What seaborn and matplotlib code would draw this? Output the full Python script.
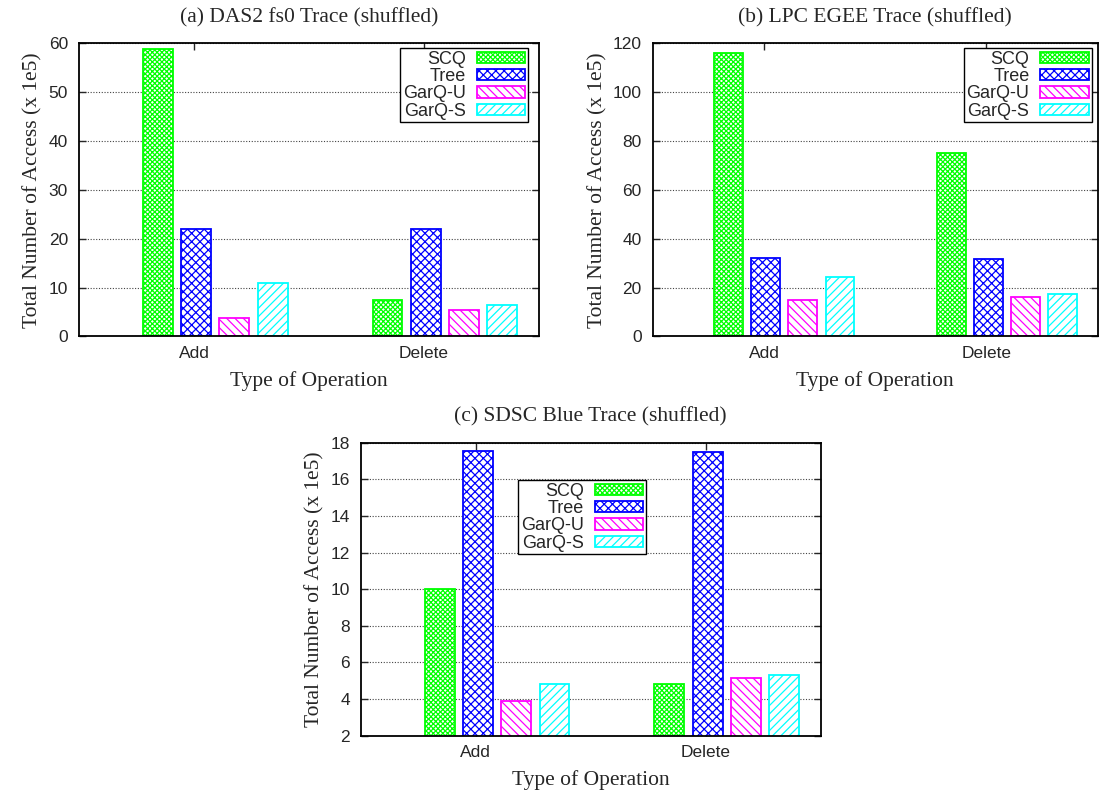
import numpy as np
import pandas as pd
import seaborn as sns
import matplotlib.pyplot as plt

# data (values in units of 1e5)
operations = ['Add', 'Delete']
series = ['SCQ', 'Tree', 'GarQ-U', 'GarQ-S']
colors = ['#00ff00', '#0000ff', '#ff00ff', '#00ffff']
hatches = ['xxxxxxx', 'xxxx', '\\\\\\\\', '////']

das2_add = [58.8, 21.9, 3.7, 11.0]
das2_delete = [7.5, 21.9, 5.5, 6.5]
lpc_add = [116.2, 32.0, 14.8, 24.2]
lpc_delete = [75.2, 31.9, 16.1, 17.4]
sdsc_add = [10.0, 17.56, 3.89, 4.82]
sdsc_delete = [4.84, 17.51, 5.16, 5.31]

titles = ['(a) DAS2 fs0 Trace (shuffled)',
          '(b) LPC EGEE Trace (shuffled)',
          '(c) SDSC Blue Trace (shuffled)']
ylims = [(0, 60), (0, 120), (2, 18)]
ysteps = [10, 20, 2]

sns.set_style('ticks')
plt.rcParams['font.family'] = ['Liberation Sans', 'DejaVu Sans']
plt.rcParams['hatch.linewidth'] = 0.9

serif = ['Liberation Serif', 'DejaVu Serif']


def make_df(add, delete):
    rows = []
    for op, vals in zip(operations, [add, delete]):
        for s, v in zip(series, vals):
            rows.append({'op': op, 'series': s, 'value': v})
    return pd.DataFrame(rows)


fig = plt.figure(figsize=(10.99, 7.94), dpi=100)
rects = [[0.0719, 0.5762, 0.4183, 0.3693],
         [0.5939, 0.5762, 0.4048, 0.3693],
         [0.3285, 0.0734, 0.4181, 0.3690]]
legend_pos = [('upper right', (0.977, 0.984)),
              ('upper right', (0.987, 0.984)),
              ('upper left', (0.342, 0.873))]
data = [(das2_add, das2_delete), (lpc_add, lpc_delete), (sdsc_add, sdsc_delete)]

for i in range(3):
    ax = fig.add_axes(rects[i])
    df = make_df(*data[i])
    sns.barplot(data=df, x='op', y='value', hue='series', order=operations,
                hue_order=series, palette=colors, width=0.667, gap=0.22,
                errorbar=None, legend=False, ax=ax)
    for cont, c, h in zip(ax.containers, colors, hatches):
        for bar in cont:
            bar.set_facecolor('white')
            bar.set_edgecolor(c)
            bar.set_hatch(h)
            bar.set_linewidth(1.3)

    # gnuplot puts the tick a bit left of the cluster centre
    ax.set_xlim(-0.592, 1.408)
    ax.set_xticks([-0.092, 0.908], operations)
    lo, hi = ylims[i]
    ax.set_ylim(lo, hi)
    ax.set_yticks(np.arange(lo, hi + 0.1, ysteps[i]))
    ax.yaxis.grid(True, linestyle=(0, (1, 1.5)), color='#444444', linewidth=0.8)
    ax.set_axisbelow(True)
    ax.tick_params(direction='in', top=True, right=True, length=5, width=1,
                   labelsize=12.5)
    ax.tick_params(axis='x', pad=7)
    ax.tick_params(axis='y', pad=8)
    for sp in ax.spines.values():
        sp.set_linewidth(1.3)
        sp.set_color('black')

    ax.set_title(titles[i], family=serif, fontsize=15.5, pad=15)
    ax.set_xlabel('Type of Operation', family=serif, fontsize=15.5, labelpad=7)
    ax.set_ylabel('Total Number of Access (x 1e5)', family=serif, fontsize=15.5,
                  labelpad=4)

    loc, anchor = legend_pos[i]
    leg = ax.legend(handles=ax.containers, labels=series, loc=loc,
                    bbox_to_anchor=anchor, markerfirst=False, fontsize=13,
                    frameon=True, fancybox=False, framealpha=1,
                    edgecolor='black', handlelength=2.7, handleheight=0.6,
                    labelspacing=0.02, handletextpad=0.6, borderpad=0.15,
                    borderaxespad=0)
    leg.get_frame().set_linewidth(1.0)

fig.savefig('out.png', dpi=100)
